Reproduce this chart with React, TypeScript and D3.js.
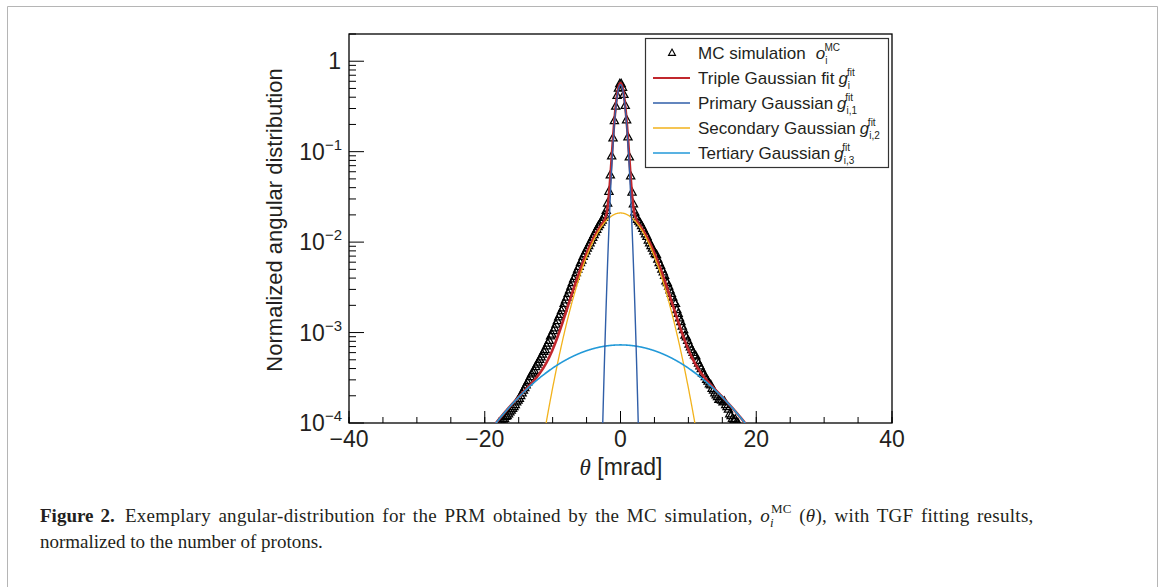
import React from "react";
import * as d3 from "d3";

// ---- data ----
const X_TICKS = [-40, -20, 0, 20, 40];
const X_MINOR = d3.range(-40, 40.001, 5);
const Y_DECADES = [-4, -3, -2, -1, 0];

// Triple-Gaussian fit components: [primary, secondary, tertiary]
const fitAmplitudes = [0.55, 0.021, 0.00073];
const fitSigmas = [0.63, 3.35, 9.2];
const fitColors = ["#2f5ea8", "#f2b21b", "#2299d8"];
const fitNames = ["Primary Gaussian", "Secondary Gaussian", "Tertiary Gaussian"];
const fitSubs = ["i,1", "i,2", "i,3"];

// MC simulation, 0.2 mrad bins, log10 of the value
// right side: theta = 0.1, 0.3, 0.5, ...
const mcLogRight = [
  -0.25, -0.29, -0.37, -0.49, -0.65, -0.84, -1.06, -1.27, -1.45, -1.58,
  -1.67, -1.72, -1.75, -1.77, -1.79, -1.82, -1.85, -1.88, -1.91, -1.94,
  -1.98, -2.01, -2.04, -2.07, -2.1, -2.13, -2.14, -2.19, -2.23, -2.26,
  -2.3, -2.33, -2.37, -2.43, -2.45, -2.49, -2.53, -2.57, -2.61, -2.66,
  -2.68, -2.75, -2.79, -2.84, -2.88, -2.93, -2.97, -3.03, -3.05, -3.09,
  -3.13, -3.16, -3.19, -3.22, -3.25, -3.26, -3.31, -3.34, -3.37, -3.4,
  -3.45, -3.46, -3.49, -3.52, -3.54, -3.57, -3.58, -3.62, -3.64, -3.67,
  -3.69, -3.71, -3.74, -3.74, -3.75, -3.77, -3.76, -3.8, -3.82, -3.85,
  -3.9, -3.92, -3.95, -3.97, -3.96, -3.99, -4.0,
];
// left side: theta = -0.1, -0.3, -0.5, ...
const mcLogLeft = [
  -0.25, -0.3, -0.38, -0.5, -0.66, -0.85, -1.05, -1.26, -1.44, -1.57,
  -1.65, -1.7, -1.73, -1.76, -1.78, -1.81, -1.83, -1.86, -1.89, -1.92,
  -1.95, -1.98, -2.01, -2.04, -2.07, -2.1, -2.13, -2.16, -2.2, -2.23,
  -2.27, -2.3, -2.34, -2.38, -2.41, -2.45, -2.49, -2.53, -2.57, -2.61,
  -2.64, -2.68, -2.73, -2.76, -2.8, -2.83, -2.87, -2.91, -2.95, -2.98,
  -3.02, -3.04, -3.09, -3.12, -3.15, -3.19, -3.21, -3.24, -3.27, -3.3,
  -3.33, -3.35, -3.38, -3.42, -3.44, -3.46, -3.49, -3.53, -3.55, -3.58,
  -3.61, -3.64, -3.67, -3.7, -3.73, -3.75, -3.77, -3.8, -3.82, -3.84,
  -3.86, -3.88, -3.9, -3.92, -3.93, -3.95, -3.96, -3.98, -3.99, -4.0,
];

const W = 1165;
const H = 587;
const PL = 349, PR = 892, PT = 34, PB = 423;
const FONT = "'Liberation Sans', Arial, Helvetica, sans-serif";
const SERIF = "'Liberation Serif', 'Times New Roman', serif";

const tri = "M0,-4.6 L4.1,2.8 L-4.1,2.8 Z";

export default function App() {
  const x = d3.scaleLinear().domain([-40, 40]).range([PL, PR]);
  const y = d3.scaleLog().domain([1e-4, 2]).range([PB, PT]);

  const samples = d3.range(-40, 40.0001, 0.05);
  const gauss = (k: number, t: number) =>
    fitAmplitudes[k] * Math.exp(-(t * t) / (2 * fitSigmas[k] * fitSigmas[k]));
  const line = d3
    .line<[number, number]>()
    .x((d) => x(d[0]))
    .y((d) => y(Math.max(d[1], 1e-7)));
  const compPaths = [0, 1, 2].map((k) =>
    line(samples.map((t) => [t, gauss(k, t)] as [number, number]))
  );
  const totalPath = line(
    samples.map((t) => [t, gauss(0, t) + gauss(1, t) + gauss(2, t)] as [number, number])
  );

  const mcPoints: [number, number][] = [];
  mcLogLeft.forEach((v, i) => mcPoints.push([-(0.1 + 0.2 * i), Math.pow(10, v)]));
  mcLogRight.forEach((v, i) => mcPoints.push([0.1 + 0.2 * i, Math.pow(10, v)]));

  const yMinor: number[] = [];
  for (let e = -4; e <= 0; e++) {
    for (let m = 2; m <= 9; m++) {
      const v = m * Math.pow(10, e);
      if (v <= 2) yMinor.push(v);
    }
  }

  const legendRows = [53, 78, 103, 128, 153];

  return (
    <svg
      width={W}
      height={H}
      style={{ position: "absolute", left: 0, top: 0, background: "#fff" }}
    >
      <rect x={0} y={0} width={W} height={H} fill="#fff" />
      <path d={`M7.5,${H + 2} V6.5 H1157.5 V${H + 2}`} fill="none" stroke="#b5b5b5" strokeWidth={1} />

      <defs>
        <clipPath id="plotClip">
          <rect x={PL} y={PT} width={PR - PL} height={PB - PT} />
        </clipPath>
      </defs>

      {/* frame */}
      <rect x={PL} y={PT} width={PR - PL} height={PB - PT} fill="#fff" stroke="#000" strokeWidth={1.3} />

      {/* x ticks */}
      {X_MINOR.map((t) => (
        <line key={"xm" + t} x1={x(t)} x2={x(t)} y1={PB} y2={PB - 6} stroke="#000" strokeWidth={1} />
      ))}
      {X_TICKS.map((t) => (
        <line key={"xM" + t} x1={x(t)} x2={x(t)} y1={PB} y2={PB - 12} stroke="#000" strokeWidth={1} />
      ))}
      {X_TICKS.map((t) => (
        <text key={"xl" + t} x={x(t)} y={447} textAnchor="middle" fontFamily={FONT} fontSize={23} fill="#231f20">
          {t < 0 ? "\u2212" + Math.abs(t) : String(t)}
        </text>
      ))}

      {/* y ticks */}
      {yMinor.map((v, i) => (
        <line key={"ym" + i} x1={PL} x2={PL + 7} y1={y(v)} y2={y(v)} stroke="#000" strokeWidth={1} />
      ))}
      {Y_DECADES.map((e) => (
        <line key={"yM" + e} x1={PL} x2={PL + 15} y1={y(Math.pow(10, e))} y2={y(Math.pow(10, e))} stroke="#000" strokeWidth={1} />
      ))}
      {Y_DECADES.map((e) =>
        e === 0 ? (
          <text key={"yl" + e} x={341} y={y(1) + 8} textAnchor="end" fontFamily={FONT} fontSize={23} fill="#231f20">
            1
          </text>
        ) : (
          <text key={"yl" + e} x={342} y={y(Math.pow(10, e)) + 8} textAnchor="end" fontFamily={FONT} fontSize={23} fill="#231f20">
            10
            <tspan fontSize={15} dy={-10}>{"\u2212" + Math.abs(e)}</tspan>
          </text>
        )
      )}

      {/* axis titles */}
      <text x={621} y={475} textAnchor="middle" fontFamily={FONT} fontSize={23} fill="#231f20">
        <tspan fontFamily={SERIF} fontStyle="italic">θ</tspan>
        <tspan> [mrad]</tspan>
      </text>
      <text
        transform="translate(282,220) rotate(-90)"
        textAnchor="middle"
        fontFamily={FONT}
        fontSize={22}
        fill="#231f20"
      >
        Normalized angular distribution
      </text>

      {/* data */}
      <g clipPath="url(#plotClip)">
        {mcPoints
          .filter((p) => p[1] >= 1e-4)
          .map((p, i) => (
            <path
              key={"mc" + i}
              d={tri}
              transform={`translate(${x(p[0])},${y(p[1])})`}
              fill="none"
              stroke="#000"
              strokeWidth={1.25}
            />
          ))}
        <path d={totalPath || ""} fill="none" stroke="#c1272d" strokeWidth={2.6} />
        <path d={compPaths[1] || ""} fill="none" stroke={fitColors[1]} strokeWidth={1.3} />
        <path d={compPaths[2] || ""} fill="none" stroke={fitColors[2]} strokeWidth={1.6} />
        <path d={compPaths[0] || ""} fill="none" stroke={fitColors[0]} strokeWidth={1.4} />
      </g>

      {/* legend */}
      <rect x={645.5} y={38.5} width={243} height={129} fill="#fff" stroke="#333" strokeWidth={1.2} />
      <path d={tri} transform={`translate(672,${legendRows[0]}) scale(0.85)`} fill="none" stroke="#000" strokeWidth={1.3} />
      <text x={698} y={legendRows[0] + 6} fontFamily={FONT} fontSize={17} fill="#231f20">
        MC simulation
        <tspan dx={10} fontStyle="italic">o</tspan>
        <tspan fontSize={10} dy={5}>i</tspan>
        <tspan fontSize={10} dx={-3} dy={-13}>MC</tspan>
      </text>
      <line x1={653} x2={690} y1={legendRows[1]} y2={legendRows[1]} stroke="#c1272d" strokeWidth={2.2} />
      <text x={698} y={legendRows[1] + 6} fontFamily={FONT} fontSize={17} fill="#231f20">
        Triple Gaussian fit
        <tspan dx={4} fontStyle="italic">g</tspan>
        <tspan fontSize={10} dy={5}>i</tspan>
        <tspan fontSize={10} dx={-3} dy={-13}>fit</tspan>
      </text>
      {[0, 1, 2].map((k) => (
        <g key={"lg" + k}>
          <line x1={653} x2={690} y1={legendRows[k + 2]} y2={legendRows[k + 2]} stroke={fitColors[k]} strokeWidth={1.4} />
          <text x={698} y={legendRows[k + 2] + 6} fontFamily={FONT} fontSize={17} fill="#231f20">
            {fitNames[k]}
            <tspan dx={4} fontStyle="italic">g</tspan>
            <tspan fontSize={10} dy={5}>{fitSubs[k]}</tspan>
            <tspan fontSize={10} dx={-12} dy={-13}>fit</tspan>
          </text>
        </g>
      ))}

      {/* caption */}
      <text x={40} y={522} fontFamily={SERIF} fontSize={19} fill="#231f20" wordSpacing={2.4} letterSpacing={0.3}>
        <tspan fontWeight="bold" letterSpacing={0}>Figure 2.</tspan>
        <tspan dx={10}>Exemplary angular-distribution for the PRM obtained by the MC simulation, </tspan>
        <tspan fontStyle="italic">o</tspan>
        <tspan fontStyle="italic" fontSize={13} dy={5}>i</tspan>
        <tspan fontSize={13} dx={-3} dy={-14}>MC</tspan>
        <tspan dy={9}> (</tspan>
        <tspan fontStyle="italic">θ</tspan>
        <tspan>), with TGF fitting results,</tspan>
      </text>
      <text x={40} y={548} fontFamily={SERIF} fontSize={19} fill="#231f20">
        normalized to the number of protons.
      </text>
    </svg>
  );
}
